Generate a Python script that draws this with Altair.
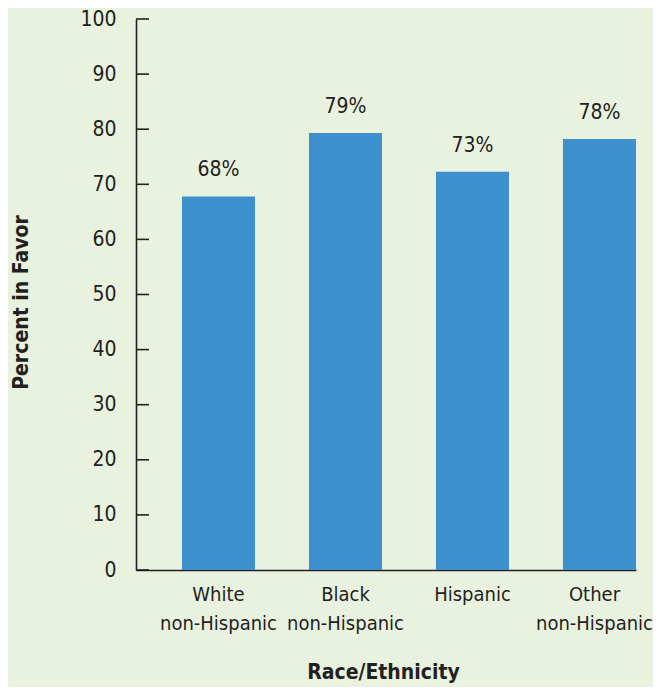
import altair as alt
import pandas as pd

categories = ["White\nnon-Hispanic", "Black\nnon-Hispanic", "Hispanic", "Other\nnon-Hispanic"]
values = [67.8, 79.3, 72.3, 78.2]
labels = ["68%", "79%", "73%", "78%"]
tick_values = [0, 10, 20, 30, 40, 50, 60, 70, 80, 90, 100]

df = pd.DataFrame({"cat": categories, "val": values, "lab": labels})
ticks_df = pd.DataFrame({"t": tick_values})

FONT = "DejaVu Sans Condensed"
BG = "#e9f2df"
BAR = "#3d8fce"
INK = "#231f20"
FS = 21

x = alt.X(
    "cat:N",
    sort=categories,
    scale=alt.Scale(paddingInner=0.425, paddingOuter=0.181, align=1),
    axis=alt.Axis(
        title="Race/Ethnicity",
        labelAngle=0,
        labelExpr="split(datum.label, '\\n')",
        labelLineHeight=29,
        labelPadding=14,
        labelFontSize=20,
        labelFont=FONT,
        labelColor=INK,
        labelOffset={"condition": {"test": "datum.index >= 0.99", "value": -5}, "value": 0},
        ticks=False,
        domainColor=INK,
        domainWidth=1.6,
        titleFont=FONT,
        titleFontSize=FS,
        titleFontWeight="bold",
        titleColor=INK,
        titleX=247,
        titleY=91,
        titleBaseline="top",
        titleAlign="center",
    ),
)

y = alt.Y(
    "val:Q",
    scale=alt.Scale(domain=[0, 100], nice=False),
    axis=alt.Axis(
        title="Percent in Favor",
        values=tick_values,
        ticks=False,
        labelFontSize=FS,
        labelFont=FONT,
        labelColor=INK,
        labelPadding=20,
        domainColor=INK,
        domainWidth=1.6,
        grid=False,
        titleFont=FONT,
        titleFontSize=FS,
        titleFontWeight="bold",
        titleColor=INK,
        titleX=-115,
        titleY=283,
        titleAlign="center",
        titleBaseline="middle",
    ),
)

bars = alt.Chart(df).mark_bar(color=BAR).encode(x=x, y=y)
text = alt.Chart(df).mark_text(
    baseline="alphabetic", dy=-20, fontSize=FS, font=FONT, color=INK
).encode(x=alt.X("cat:N", sort=categories), y="val:Q", text="lab:N")
tick_marks = alt.Chart(ticks_df).mark_rule(color=INK, strokeWidth=1.6).encode(
    y="t:Q", x=alt.value(0), x2=alt.value(13)
)

chart = (
    alt.layer(bars, text, tick_marks)
    .properties(
        width=500,
        height=551,
        background=BG,
        autosize=alt.AutoSizeParams(type="none"),
        padding={"left": 128, "top": 11, "right": 17, "bottom": 117},
    )
    .configure_view(stroke=None)
)

chart.save("out.html", embed_options={"renderer": "svg", "actions": False})
